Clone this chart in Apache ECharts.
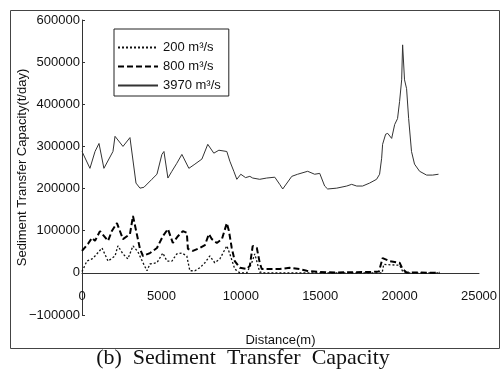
<!DOCTYPE html>
<html>
<head>
<meta charset="utf-8">
<script src="https://cdn.jsdelivr.net/npm/echarts@6/dist/echarts.min.js"></script>
<style>
  html, body { margin: 0; padding: 0; background: #fff; }
  #chart { width: 502px; height: 374px; }
</style>
</head>
<body>
<div id="chart"></div>
<script>
// discharge cases
const seriesNames = ["200 m³/s", "800 m³/s", "3970 m³/s"];

// [distance (m), capacity (t/day)]
const q200 = [
  [0, 3000], [310, 28000], [630, 33000], [820, 40000], [1260, 59000], [1640, 28000],
  [2080, 40000], [2260, 64000], [2580, 45000], [2890, 33000], [3210, 64000], [3520, 50000],
  [3840, 24000], [4090, 5000], [4280, 21000], [4720, 24000], [5090, 47000], [5350, 28000],
  [5660, 28000], [5970, 45000], [6290, 47000], [6600, 40000], [6790, 5000], [7110, 5000],
  [7420, 12000], [7740, 24000], [8050, 40000], [8360, 24000], [8680, 33000], [9120, 64000],
  [9310, 45000], [9620, 9000], [9940, 0], [10380, 0], [10690, 24000], [10880, 45000],
  [11190, 2000], [11500, 0], [18900, 0], [19000, 20000], [20000, 18000], [20200, 3000],
  [20500, 0], [22500, 0]
];

const q800 = [
  [0, 52000], [380, 69000], [630, 83000], [820, 76000], [1130, 99000], [1640, 76000],
  [1890, 100000], [2200, 118000], [2580, 80000], [3020, 92000], [3210, 135000], [3650, 57000],
  [3840, 40000], [4280, 47000], [4720, 59000], [5090, 87000], [5410, 104000], [5720, 71000],
  [6040, 87000], [6350, 99000], [6600, 95000], [6670, 57000], [6980, 52000], [7420, 59000],
  [7740, 66000], [7990, 92000], [8180, 80000], [8490, 71000], [8810, 80000], [9120, 118000],
  [9250, 100000], [9430, 59000], [9620, 28000], [9940, 12000], [10380, 9000], [10570, 17000],
  [10750, 64000], [11010, 59000], [11190, 24000], [11320, 9000], [11820, 9000], [12450, 9000],
  [13080, 12000], [13710, 9000], [14150, 5000], [14970, 2000], [16000, 1000], [18000, 2000],
  [18700, 3000], [18930, 35000], [19370, 28000], [20000, 24000], [20190, 9000], [20440, 1000],
  [22520, 0]
];

const q3970 = [
  [0, 288000], [500, 248000], [820, 288000], [1070, 307000], [1380, 248000], [1950, 288000],
  [2080, 324000], [2580, 300000], [3020, 321000], [3400, 213000], [3650, 201000], [3900, 203000],
  [4400, 222000], [4720, 234000], [5030, 281000], [5160, 288000], [5410, 225000], [5660, 241000],
  [5970, 260000], [6290, 281000], [6730, 248000], [7110, 258000], [7550, 270000], [7920, 305000],
  [8300, 284000], [8620, 291000], [9120, 288000], [9310, 265000], [9560, 241000], [9750, 222000],
  [10000, 234000], [10300, 226000], [10570, 229000], [10750, 225000], [11190, 222000],
  [11630, 225000], [12140, 227000], [12450, 210000], [12640, 199000], [13210, 229000],
  [13580, 234000], [14210, 241000], [14650, 234000], [14970, 236000], [15280, 206000],
  [15470, 199000], [16040, 201000], [16670, 206000], [16980, 210000], [17300, 206000],
  [17670, 206000], [18110, 213000], [18550, 222000], [18740, 234000], [18870, 272000],
  [18930, 305000], [19120, 329000], [19250, 331000], [19500, 319000], [19690, 352000],
  [19870, 366000], [20000, 407000], [20130, 458000], [20190, 541000], [20310, 458000],
  [20440, 437000], [20570, 366000], [20750, 288000], [20940, 258000], [21260, 241000],
  [21700, 232000], [22080, 232000], [22450, 234000]
];

const font = "'Liberation Sans', Arial, sans-serif";
// no thousands separators, real minus sign
const plain = v => String(v).replace("-", "\u2212");

const chart = echarts.init(document.getElementById("chart"), null, { renderer: "canvas" });

const option = {
  animation: false,
  backgroundColor: "#fff",
  grid: { left: 82, right: 23, top: 20, bottom: 59, outerBoundsMode: "none", containLabel: false },
  legend: {
    left: 114,
    top: 29,
    orient: "vertical",
    data: seriesNames,
    itemWidth: 40,
    itemHeight: 14,
    itemGap: 6,
    padding: [12, 8, 4, 3],
    borderColor: "#222",
    borderWidth: 1,
    textStyle: { fontFamily: font, fontSize: 13, color: "#111" },
    itemStyle: { opacity: 0 },
    lineStyle: { type: "inherit" }
  },
  xAxis: {
    type: "value",
    min: 0,
    max: 25000,
    interval: 5000,
    name: "Distance(m)",
    nameLocation: "middle",
    nameGap: 19,
    nameMoveOverlap: false,
    nameTextStyle: { fontFamily: font, fontSize: 13, color: "#111" },
    axisLine: { onZero: true, lineStyle: { color: "#333", width: 1 } },
    axisTick: { show: false },
    splitLine: { show: false },
    axisLabel: { margin: -25, fontFamily: font, fontSize: 13, color: "#111", formatter: plain }
  },
  yAxis: {
    type: "value",
    min: -100000,
    max: 600000,
    interval: 100000,
    name: "Sediment Transfer Capacity(t/day)",
    nameLocation: "middle",
    nameGap: 53,
    nameMoveOverlap: false,
    nameTextStyle: { fontFamily: font, fontSize: 13, color: "#111" },
    axisLine: { show: true, lineStyle: { color: "#333", width: 1 } },
    axisTick: { show: true, inside: true, length: 3, lineStyle: { color: "#333" } },
    splitLine: { show: false },
    axisLabel: { margin: 2, fontFamily: font, fontSize: 13, color: "#111", formatter: plain }
  },
  series: [
    {
      name: seriesNames[0],
      type: "line",
      data: q200,
      symbol: "none",
      showSymbol: false,
      lineStyle: { color: "#111", width: 1.3, type: [2, 2] }
    },
    {
      name: seriesNames[1],
      type: "line",
      data: q800,
      symbol: "none",
      showSymbol: false,
      lineStyle: { color: "#000", width: 2, type: [6, 3] }
    },
    {
      name: seriesNames[2],
      type: "line",
      data: q3970,
      symbol: "none",
      showSymbol: false,
      lineStyle: { color: "#333", width: 1 }
    }
  ],
  graphic: [
    {
      type: "rect",
      shape: { x: 10.5, y: 10.5, width: 489, height: 338 },
      style: { fill: null, stroke: "#444", lineWidth: 1 },
      silent: true
    },
    {
      type: "text",
      x: 243,
      y: 358,
      style: {
        text: "(b)  Sediment  Transfer  Capacity",
        fontFamily: "'Liberation Serif', 'Times New Roman', serif",
        fontSize: 22,
        fill: "#111",
        align: "center",
        verticalAlign: "middle"
      }
    }
  ]
};

chart.setOption(option);
</script>
</body>
</html>
